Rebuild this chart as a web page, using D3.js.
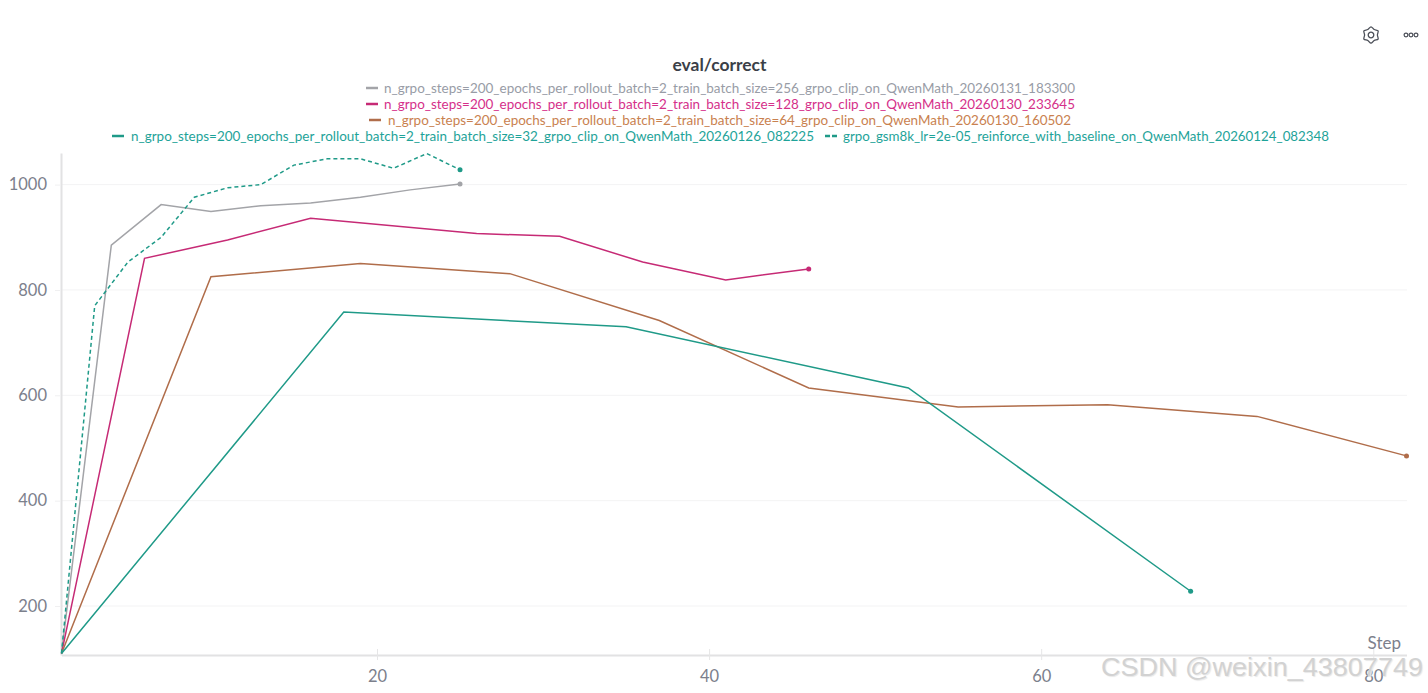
<!DOCTYPE html>
<html>
<head>
<meta charset="utf-8">
<script src="https://d3js.org/d3.v7.min.js"></script>
<style>
  html, body { margin: 0; background: #fff; overflow: hidden; }
  text { font-family: Lato, "Noto Sans", sans-serif; }
</style>
</head>
<body>
<div id="chart"></div>
<script>
// values: [step, eval/correct]
const run256 = [[1,110],[4,885],[7,962],[10,949],[13,960],[16,965],[19,976],[22,990],[25,1001]];
const run128 = [[1,110],[6,860],[11,895],[16,936],[26,907],[31,902],[36,853],[41,819],[46,840]];
const run64 = [[1,110],[10,825],[19,850],[28,831],[37,742],[46,614],[55,578],[64,582],[73,560],[82,485]];
const run32 = [[1,110],[18,758],[35,730],[52,614],[69,228]];
const runBaseline = [[1,110],[3,770],[5,853],[7,900],[9,976],[11,994],[13,1000],[15,1037],[17,1049],[19,1049],[21,1031],[23,1059],[25,1028]];

const xTicks = [20, 40, 60, 80];
const yTicks = [200, 400, 600, 800, 1000];

const width = 1428, height = 693;
const left = 61, right = 1407, top_ = 153, bottom = 655;

const x = d3.scaleLinear().domain([1, 82]).range([left + 0.5, right - 0.5]);
const y = d3.scaleLinear().domain([107, 1060]).range([bottom, top_]);

const series = [
  { name: "n_grpo_steps=200_epochs_per_rollout_batch=2_train_batch_size=256_grpo_clip_on_QwenMath_20260131_183300",
    values: run256, color: "#a3a4a8", text: "#989ca6", lx: 366, tx: 384, tw: 691, ly: 88 },
  { name: "n_grpo_steps=200_epochs_per_rollout_batch=2_train_batch_size=128_grpo_clip_on_QwenMath_20260130_233645",
    values: run128, color: "#c62a75", text: "#d5308a", lx: 366, tx: 384, tw: 691, ly: 104 },
  { name: "n_grpo_steps=200_epochs_per_rollout_batch=2_train_batch_size=64_grpo_clip_on_QwenMath_20260130_160502",
    values: run64, color: "#b06d4a", text: "#c9814f", lx: 369, tx: 388, tw: 683, ly: 120 },
  { name: "n_grpo_steps=200_epochs_per_rollout_batch=2_train_batch_size=32_grpo_clip_on_QwenMath_20260126_082225",
    values: run32, color: "#1f9a88", text: "#1ea399", lx: 112, tx: 131, tw: 683, ly: 136 },
  { name: "grpo_gsm8k_lr=2e-05_reinforce_with_baseline_on_QwenMath_20260124_082348",
    values: runBaseline, color: "#1f9a88", text: "#1ea399", lx: 825, tx: 843, tw: 486, ly: 136, dash: "4 3" }
];

const svg = d3.select("#chart").append("svg")
  .attr("width", width).attr("height", height)
  .style("display", "block");

// gridlines
svg.append("g").selectAll("line").data(yTicks).enter().append("line")
  .attr("x1", left).attr("x2", right)
  .attr("y1", d => y(d)).attr("y2", d => y(d))
  .attr("stroke", "#f3f3f4").attr("stroke-width", 1);

// axes
const xAxis = svg.append("g").attr("transform", `translate(0,${bottom})`)
  .call(d3.axisBottom(x).tickValues(xTicks).tickSize(5).tickSizeOuter(0));
const yAxis = svg.append("g").attr("transform", `translate(${left},0)`)
  .call(d3.axisLeft(y).tickValues(yTicks).tickFormat(d3.format("d")).tickSize(6).tickSizeOuter(0));

xAxis.select(".domain").attr("stroke", "#e2e2e3").attr("stroke-width", 2);
yAxis.select(".domain").attr("stroke", "#e2e2e3").attr("stroke-width", 2);
xAxis.selectAll(".tick line").attr("stroke", "#e6e6e7").attr("y1", -6);
yAxis.selectAll(".tick line").attr("stroke", "#f0f0f1");
xAxis.selectAll("text").attr("y", 15).attr("font-size", 16.5).attr("fill", "#7c808c").style("font-family", 'Lato, sans-serif');
yAxis.selectAll("text").attr("x", -14).attr("font-size", 16.5).attr("fill", "#7c808c").style("font-family", 'Lato, sans-serif');

// lines
const line = d3.line().x(d => x(d[0])).y(d => y(d[1]));
svg.append("g").selectAll("path").data(series).enter().append("path")
  .attr("d", d => line(d.values))
  .attr("fill", "none")
  .attr("stroke", d => d.color)
  .attr("stroke-width", 1.5)
  .attr("stroke-dasharray", d => d.dash || null);

// dot on the last point of each run
svg.append("g").selectAll("circle").data(series).enter().append("circle")
  .attr("cx", d => x(d.values[d.values.length - 1][0]))
  .attr("cy", d => y(d.values[d.values.length - 1][1]))
  .attr("r", 2.5)
  .attr("fill", d => d.color);

// title
svg.append("text").attr("x", 719.5).attr("y", 71).attr("text-anchor", "middle")
  .attr("font-size", 17).attr("font-weight", 700).attr("fill", "#3b3f48")
  .attr("textLength", 94).attr("lengthAdjust", "spacingAndGlyphs")
  .text("eval/correct");

// legend
const legend = svg.append("g");
legend.selectAll("line").data(series).enter().append("line")
  .attr("x1", d => d.lx).attr("x2", d => d.lx + 12)
  .attr("y1", d => d.ly).attr("y2", d => d.ly)
  .attr("stroke", d => d.color).attr("stroke-width", 2.5)
  .attr("stroke-dasharray", d => d.dash ? "5 2" : null);
legend.selectAll("text").data(series).enter().append("text")
  .attr("x", d => d.tx).attr("y", d => d.ly + 5)
  .attr("font-size", 14).attr("fill", d => d.text)
  .attr("textLength", d => d.tw).attr("lengthAdjust", "spacingAndGlyphs")
  .text(d => d.name);

// step label
svg.append("text").attr("x", 1401).attr("y", 649).attr("text-anchor", "end")
  .attr("font-size", 17).attr("fill", "#7c808c").text("Step");

// toolbar icons
const gear = svg.append("g").attr("transform", "translate(1371,35)")
  .attr("fill", "none").attr("stroke", "#4a4e57").attr("stroke-width", 1.3);
gear.append("path").attr("d", d3.lineRadial().curve(d3.curveCardinalClosed)
  .angle((d, i) => i * Math.PI / 6).radius(d => d)([8.2, 6.4, 8.2, 6.4, 8.2, 6.4, 8.2, 6.4, 8.2, 6.4, 8.2, 6.4]));
gear.append("circle").attr("r", 2.8);
svg.append("g").attr("fill", "none").attr("stroke", "#4a4e57").attr("stroke-width", 1.2)
  .selectAll("circle").data([1406, 1411, 1416]).enter().append("circle")
  .attr("cx", d => d).attr("cy", 35).attr("r", 1.9);

// watermark
svg.append("text").attr("x", 1101).attr("y", 676)
  .attr("font-size", 25.5).attr("fill", "#d2d2d2")
  .style("font-family", '"Liberation Sans", sans-serif')
  .style("text-shadow", "1px 1px 1px #e8e8e8")
  .attr("textLength", 322).attr("lengthAdjust", "spacingAndGlyphs")
  .text("CSDN @weixin_43807749");
</script>
</body>
</html>
